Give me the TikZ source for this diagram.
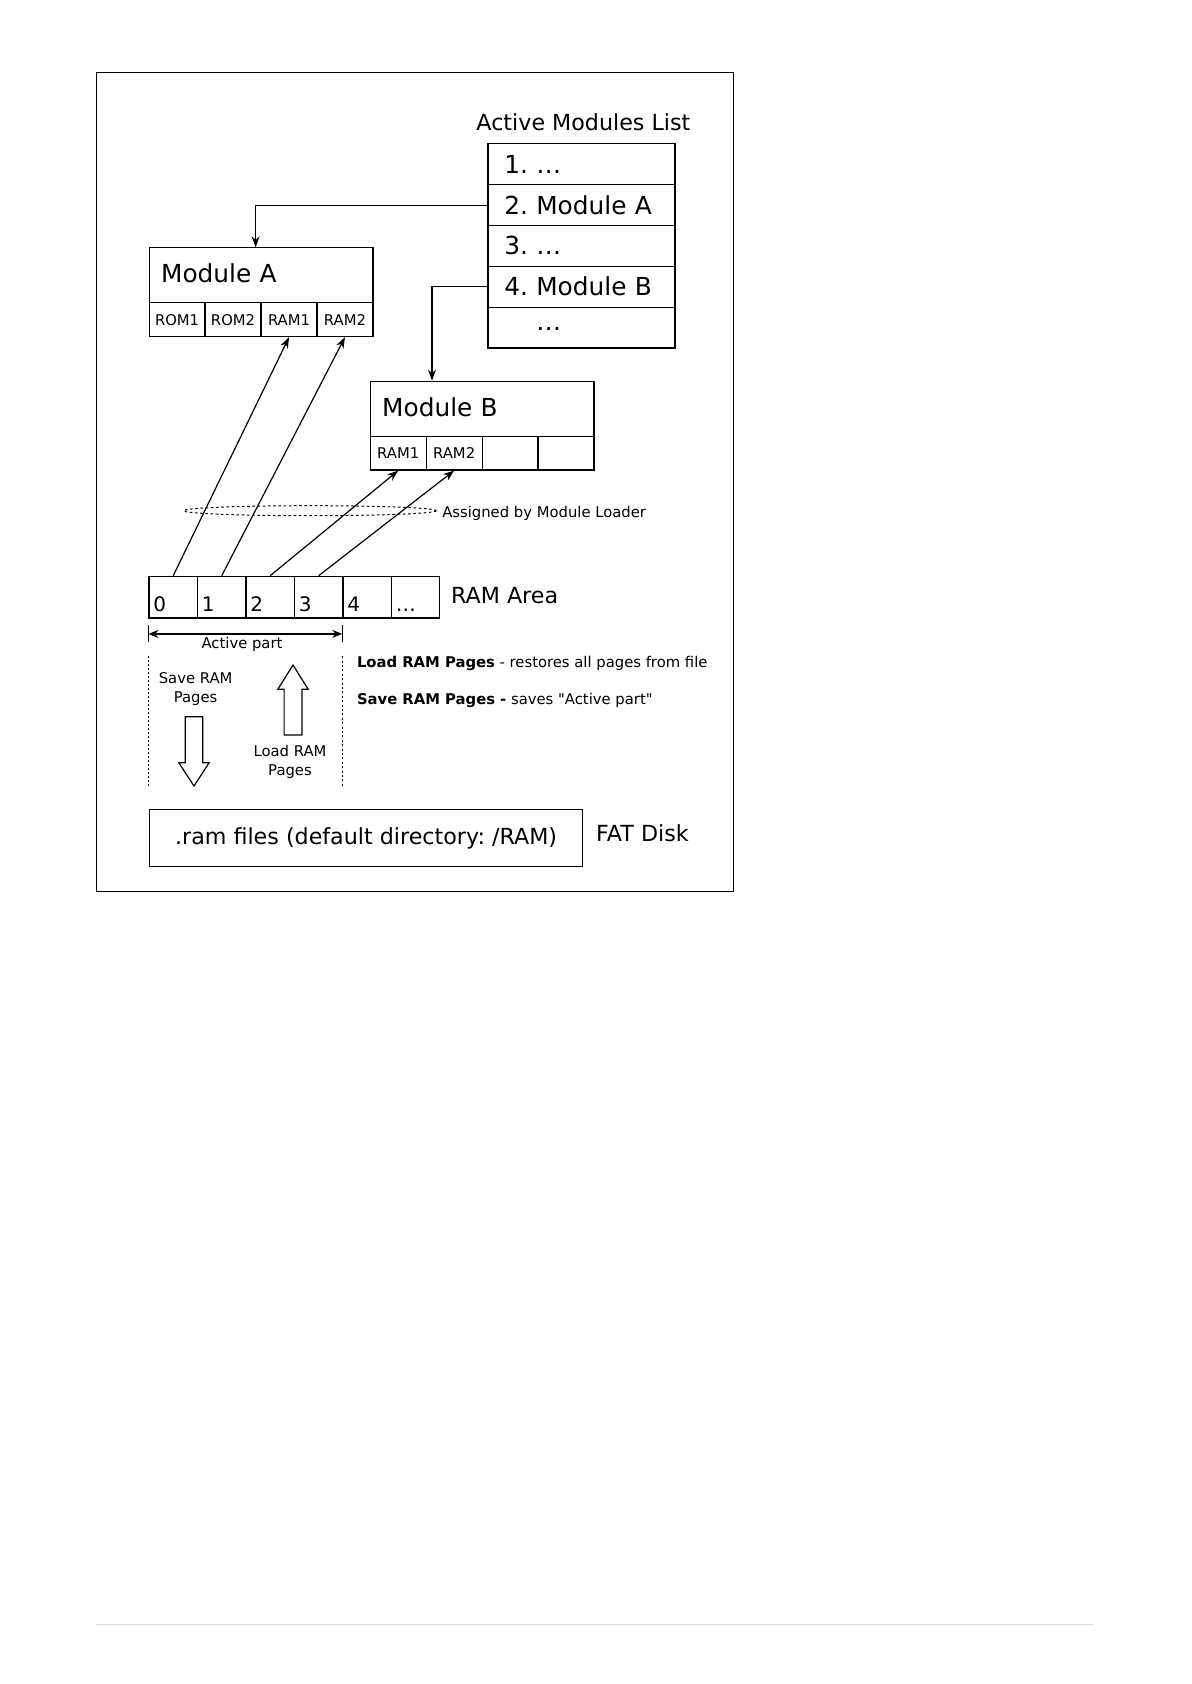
\documentclass[tikz,border=0pt]{standalone}
\usepackage{fontspec}
\setmainfont{DejaVu Sans}
\usetikzlibrary{arrows.meta, positioning, calc}
\frenchspacing

\tikzset{
  bigtext/.style={font=\fontsize{12.4}{15}\selectfont},
  midtext/.style={font=\fontsize{11.1}{13}\selectfont},
  digtext/.style={font=\fontsize{10}{12}\selectfont},
  smalltext/.style={font=\fontsize{7.4}{9.5}\selectfont},
  box/.style={draw, line width=0.6pt, inner sep=0pt},
  listrow/.style={box, bigtext, anchor=north west, text width=77.1pt, inner xsep=8.2pt,
    minimum height=20.4pt, text height=9pt, text depth=0pt, align=left},
  titlebox/.style={box, bigtext, anchor=north west, text width=99.9pt, inner xsep=6pt,
    minimum height=27.5pt, text height=9pt, text depth=1.4pt, align=left},
  cellbox/.style={box, smalltext, anchor=north west, minimum width=28pt, minimum height=16.85pt},
  ramcell/.style={box, anchor=north west, minimum width=24.25pt, minimum height=20.8pt},
  link/.style={line width=0.6pt, -{Stealth[length=5.5pt, width=4pt]}},
  hollow/.style={draw, line width=0.6pt, fill=white},
}

\begin{document}
\begin{tikzpicture}[x=0.5pt, y=-0.5pt]
\useasboundingbox (0,0) rectangle (1191,1684);

% Rahmen
\draw[line width=0.6pt] (96.7,72.5) rectangle (733.3,891.5);

% Liste der aktiven Module
\node[midtext] (listhead) at (583.4,122.3) {Active Modules List};
\foreach \txt [count=\i] in {1. \dots, 2. Module A, 3. \dots, 4. Module B, \phantom{1. }\raisebox{3pt}{\dots}} {
  \node[listrow] (row\i) at (487.4,{143.3+(\i-1)*40.85}) {\txt};
}

% Modul A
\node[titlebox] (modA) at (148.5,247.3) {Module A};
\foreach \lbl [count=\i] in {ROM1, ROM2, RAM1, RAM2}
  \node[cellbox] (modA-\i) at ({148.5+(\i-1)*55.95},302.3) {\lbl};

% Modul B
\node[titlebox] (modB) at (369.6,380.7) {Module B};
\foreach \lbl [count=\i] in {RAM1, RAM2, {}, {}}
  \node[cellbox] (modB-\i) at ({369.6+(\i-1)*55.95},435.7) {\lbl};

% Verweise aus der Liste
\draw[link] (row2.west) -| ($(modA.north)+(-5.4,0)$);
\draw[link] (row4.west) -| ($(modB.north west)+(62.4,0)$);

% RAM-Bereich
\foreach \lbl [count=\i] in {0,1,2,3,4,\dots} {
  \node[ramcell] (ram\i) at ({148.4+(\i-1)*48.47},575.7) {};
  \node[digtext, anchor=base west, inner sep=0pt] (ramlbl\i) at ($(ram\i.south west)+(4.6,-6.6)$) {\lbl};
}
\node[midtext, anchor=west, inner sep=0pt] (ramhead) at (450.7,595.7) {RAM Area};

% Zuordnung durch den Loader
\draw[line width=0.5pt, dash pattern=on 1.3pt off 1.3pt] (310,510.7) ellipse [x radius=126.3, y radius=5];
\node[smalltext, anchor=west, inner sep=0pt] (loader) at (441.9,513.3) {Assigned by Module Loader};

\draw[link] (ram1.north) -- (modA-3.south);
\draw[link] (ram2.north) -- (modA-4.south);
\draw[link] (ram3.north) -- (modB-1.south);
\draw[link] (ram4.north) -- (modB-2.south);

% aktiver Teil
\coordinate (actL) at ($(ram1.south west)+(0,15.4)$);
\coordinate (actR) at ($(ram5.south west)+(0,15.4)$);
\draw[line width=0.6pt, {Stealth[length=5pt, width=4pt]}-{Stealth[length=5pt, width=4pt]}] (actL) -- (actR);
\draw[line width=0.6pt] ($(actL)+(0,-8.7)$) -- ($(actL)+(0,8)$);
\draw[line width=0.6pt] ($(actR)+(0,-8.7)$) -- ($(actR)+(0,8)$);
\node[smalltext] (actlbl) at (242,644) {Active part};

\draw[line width=0.6pt, dash pattern=on 1pt off 1pt] ($(ram1.south west)+(0,37.7)$) -- ++(0,130);
\draw[line width=0.5pt, dash pattern=on 1pt off 1.2pt] ($(ram5.south west)+(0,37.7)$) -- ++(0,130);

% Speichern / Laden
\node[smalltext, align=center] (savelbl) at (195.6,688.8) {Save RAM\\Pages};
\draw[hollow] (185.3,716.7) -- (202.7,716.7) -- (202.7,762.7) -- (209.2,762.7)
  -- (194,786) -- (178.8,762.7) -- (185.3,762.7) -- cycle;
\draw[hollow] (284.1,735) -- (301.9,735) -- (301.9,689.3) -- (308.2,689.3)
  -- (293,665) -- (277.8,689.3) -- (284.1,689.3) -- cycle;
\node[smalltext, align=center] (loadlbl) at (290,761.8) {Load RAM\\Pages};

\node[smalltext, anchor=west, inner sep=0pt] (loadtxt) at (356.6,663.3) {\textbf{Load RAM Pages} - restores all pages from file};
\node[smalltext, anchor=west, inner sep=0pt] (savetxt) at (356.6,700) {\textbf{Save RAM Pages -} saves \textquotedbl Active part\textquotedbl};

% FAT-Datentraeger
\node[box, midtext, anchor=north west, minimum width=216.5pt, minimum height=28.5pt] (fat) at (149,809) {.ram files (default directory: /RAM)};
\node[midtext, anchor=west, inner sep=0pt] (fathead) at (595.8,833) {FAT Disk};

% Fusslinie
\draw[black!15, line width=0.8pt] (96,1624.3) -- (1093,1624.3);

\end{tikzpicture}
\end{document}
